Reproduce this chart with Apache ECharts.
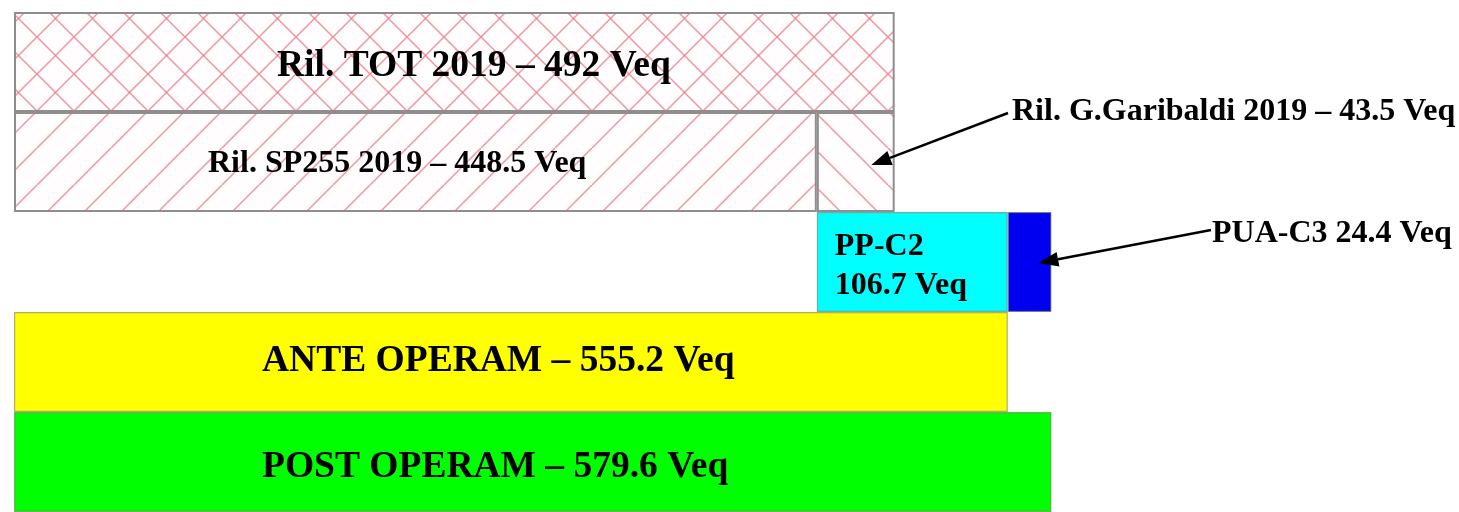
<!DOCTYPE html>
<html>
<head>
<meta charset="utf-8">
<script src="https://cdn.jsdelivr.net/npm/echarts@6/dist/echarts.min.js"></script>
<style>
  html, body { margin: 0; padding: 0; background: #ffffff; }
  #chart { width: 1459px; height: 512px; }
</style>
</head>
<body>
<div id="chart"></div>
<script>
// Veq values per block
const rowKeys        = ['tot', 'sp255', 'interventi', 'ante', 'post'];
const rowNames       = ['Ril. TOT 2019', 'Ril. SP255 2019', '', 'ANTE OPERAM', 'POST OPERAM'];
const rowValues      = [492, 448.5, 448.5, 555.2, 579.6];   // third row: offset equal to SP255
const secondNames    = ['', 'Ril. G.Garibaldi 2019', 'PP-C2', '', ''];
const secondValues   = [null, 43.5, 106.7, null, null];
const thirdNames     = ['', '', 'PUA-C3', '', ''];
const thirdValues    = [null, null, 24.4, null, null];

const SERIF = '"Liberation Serif", "Times New Roman", "DejaVu Serif", serif';

// Tiled hatch texture: '/' and/or '\' lines
function hatch(dirs) {
  const p = 37;
  const c = document.createElement('canvas');
  c.width = p; c.height = p;
  const g = c.getContext('2d');
  g.fillStyle = '#fffdfd';
  g.fillRect(0, 0, p, p);
  g.strokeStyle = 'rgba(234,110,122,0.72)';
  g.lineWidth = 1.5;
  dirs.forEach(function (d) {
    for (let k = -1; k <= 1; k++) {
      g.beginPath();
      if (d === '/') { g.moveTo(k * p, p); g.lineTo(k * p + p, 0); }
      else { g.moveTo(k * p, 0); g.lineTo(k * p + p, p); }
      g.stroke();
    }
  });
  return { image: c, repeat: 'repeat' };
}

const crossHatch = hatch(['/', '\\']);
const slashHatch = hatch(['/']);
const backHatch  = hatch(['\\']);

const hatchBorder = { borderColor: '#8e8e8e', borderWidth: 2 };
const solidBorder = { borderColor: 'rgba(110,110,90,0.55)', borderWidth: 1.2 };

const rowStyles = [
  Object.assign({ color: crossHatch }, hatchBorder),
  Object.assign({ color: slashHatch }, hatchBorder),
  { color: 'rgba(0,0,0,0)', borderWidth: 0 },
  Object.assign({ color: '#ffff00' }, solidBorder),
  Object.assign({ color: '#00ff00' }, solidBorder)
];
const rowLabels = [
  { offset: [263, 4],  fontSize: 37.5 },
  { offset: [194, 2],  fontSize: 32 },
  null,
  { offset: [248, -1], fontSize: 37.5 },
  { offset: [248, 5],  fontSize: 37.5 }
];

function labelText(name, v) { return name + ' \u2013 ' + v + ' Veq'; }

const baseData = rowValues.map(function (v, i) {
  const lab = rowLabels[i];
  return {
    value: v,
    itemStyle: rowStyles[i],
    label: lab ? {
      show: true, position: 'insideLeft', distance: 0, offset: lab.offset,
      fontSize: lab.fontSize, fontWeight: 'bold', fontFamily: SERIF, color: '#000',
      formatter: labelText(rowNames[i], v)
    } : { show: false }
  };
});

const secondStyles = [null, Object.assign({ color: backHatch }, hatchBorder),
  Object.assign({ color: '#00ffff' }, solidBorder), null, null];
const secondData = secondValues.map(function (v, i) {
  if (v == null) return '-';
  const item = { value: v, itemStyle: secondStyles[i], label: { show: false } };
  if (secondNames[i] === 'PP-C2') {
    item.label = {
      show: true, position: 'insideLeft', distance: 0, offset: [18, 4],
      fontSize: 32, fontWeight: 'bold', fontFamily: SERIF, color: '#000',
      lineHeight: 39, align: 'left',
      formatter: secondNames[i] + '\n' + v + ' Veq'
    };
  }
  return item;
});

const thirdData = thirdValues.map(function (v) {
  if (v == null) return '-';
  return { value: v, itemStyle: Object.assign({ color: '#0000f0' }, solidBorder), label: { show: false } };
});

const chart = echarts.init(document.getElementById('chart'), null, { renderer: 'canvas' });

chart.setOption({
  animation: false,
  backgroundColor: '#ffffff',
  grid: { left: 14, right: 13, top: 12, bottom: 0, containLabel: false },
  xAxis: { type: 'value', min: 0, max: 800, show: false },
  yAxis: { type: 'category', data: rowKeys, inverse: true, show: false },
  series: [
    { type: 'bar', stack: 'veq', barCategoryGap: 0, barWidth: '100%', data: baseData },
    { type: 'bar', stack: 'veq', barCategoryGap: 0, barWidth: '100%', data: secondData },
    { type: 'bar', stack: 'veq', barCategoryGap: 0, barWidth: '100%', data: thirdData }
  ]
});

// Callout arrows pointing into the small blocks
function arrow(tail, tip) {
  const dx = tip[0] - tail[0], dy = tip[1] - tail[1];
  const len = Math.sqrt(dx * dx + dy * dy);
  const ux = dx / len, uy = dy / len;
  const headLen = 20, headHalf = 7.5;
  const bx = tip[0] - ux * headLen, by = tip[1] - uy * headLen;
  return [
    { type: 'line', silent: true, z: 100, shape: { x1: tail[0], y1: tail[1], x2: bx, y2: by },
      style: { stroke: '#000', lineWidth: 2.6 } },
    { type: 'polygon', silent: true, z: 100,
      shape: { points: [tip, [bx - uy * headHalf, by + ux * headHalf], [bx + uy * headHalf, by - ux * headHalf]] },
      style: { fill: '#000' } }
  ];
}
function callout(text, x, y) {
  return { type: 'text', silent: true, z: 100, x: x, y: y,
    style: { text: text, fill: '#000', fontSize: 32, fontWeight: 'bold', fontFamily: SERIF,
      align: 'left', verticalAlign: 'middle' } };
}

const tipGar = chart.convertToPixel({ gridIndex: 0 }, [rowValues[1] + secondValues[1] * 0.7, rowKeys[1]]);
const tipPua = chart.convertToPixel({ gridIndex: 0 }, [rowValues[2] + secondValues[2] + thirdValues[2] * 0.7, rowKeys[2]]);

chart.setOption({
  graphic: [].concat(
    arrow([1008, 113], [tipGar[0], tipGar[1] + 3]),
    [callout(labelText(secondNames[1], secondValues[1]), 1012, 112)],
    arrow([1211, 230], [tipPua[0], tipPua[1] + 1]),
    [callout(thirdNames[2] + ' ' + thirdValues[2] + ' Veq', 1212, 234)]
  )
});
</script>
</body>
</html>
